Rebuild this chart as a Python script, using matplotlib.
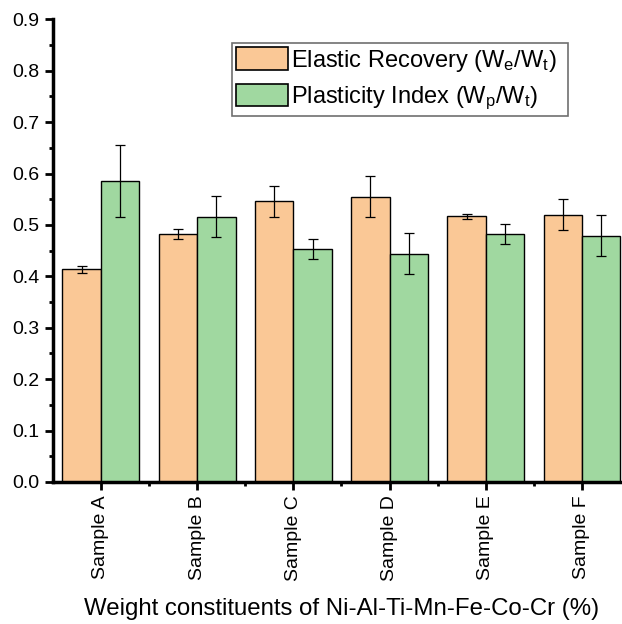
import matplotlib
matplotlib.use("Agg")
import matplotlib.pyplot as plt
import numpy as np
from matplotlib.ticker import MultipleLocator, FormatStrFormatter

plt.rcParams['font.family'] = ['Liberation Sans', 'DejaVu Sans']
plt.rcParams['mathtext.default'] = 'regular'

samples = ['Sample A', 'Sample B', 'Sample C', 'Sample D', 'Sample E', 'Sample F']
elastic = [0.414, 0.483, 0.546, 0.555, 0.517, 0.520]
elastic_err = [0.007, 0.010, 0.030, 0.040, 0.005, 0.030]
plastic = [0.585, 0.516, 0.453, 0.444, 0.482, 0.479]
plastic_err = [0.070, 0.040, 0.020, 0.040, 0.020, 0.040]

fig = plt.figure(figsize=(6.22, 6.24), dpi=100)
ax = fig.add_axes([0.085, 0.2276, 0.928, 0.7415])

x = np.arange(len(samples))
w = 0.4
errkw = dict(ecolor='black', elinewidth=0.9, capsize=3.5, capthick=0.9)
ax.bar(x - w / 2, elastic, w, yerr=elastic_err, color='#FAC896', edgecolor='black',
       linewidth=1.0, error_kw=errkw, label=r'Elastic Recovery (W$_e$/W$_t$)  ')
ax.bar(x + w / 2, plastic, w, yerr=plastic_err, color='#A0D8A0', edgecolor='black',
       linewidth=1.0, error_kw=errkw, label=r'Plasticity Index (W$_p$/W$_t$)')

ax.set_xlim(-0.5, 5.5)
ax.set_ylim(0, 0.9)
ax.yaxis.set_major_locator(MultipleLocator(0.1))
ax.yaxis.set_minor_locator(MultipleLocator(0.05))
ax.yaxis.set_major_formatter(FormatStrFormatter('%.1f'))
ax.set_xticks(x)
ax.set_xticks(x[:-1] + 0.5, minor=True)
ax.set_xticklabels(samples, rotation=90)

for s in ['top', 'right']:
    ax.spines[s].set_visible(False)
for s in ['left', 'bottom']:
    ax.spines[s].set_linewidth(2.5)
ax.tick_params(which='major', direction='out', length=5.5, width=2, pad=4, labelsize=14)
ax.tick_params(which='minor', direction='out', length=3, width=2)

ax.set_xlabel('Weight constituents of Ni-Al-Ti-Mn-Fe-Co-Cr (%)', fontsize=17.3, labelpad=12)

leg = ax.legend(loc='upper left', bbox_to_anchor=(0.31, 0.948), fontsize=17,
                handlelength=2.23, handleheight=1.08, handletextpad=0.1,
                labelspacing=0.44, borderpad=0.17, borderaxespad=0,
                fancybox=False, frameon=True, framealpha=1)
leg.get_frame().set_edgecolor('#707070')
leg.get_frame().set_linewidth(1.2)
for p in leg.get_patches():
    p.set_linewidth(1.2)

fig.savefig('out.png', dpi=100)
